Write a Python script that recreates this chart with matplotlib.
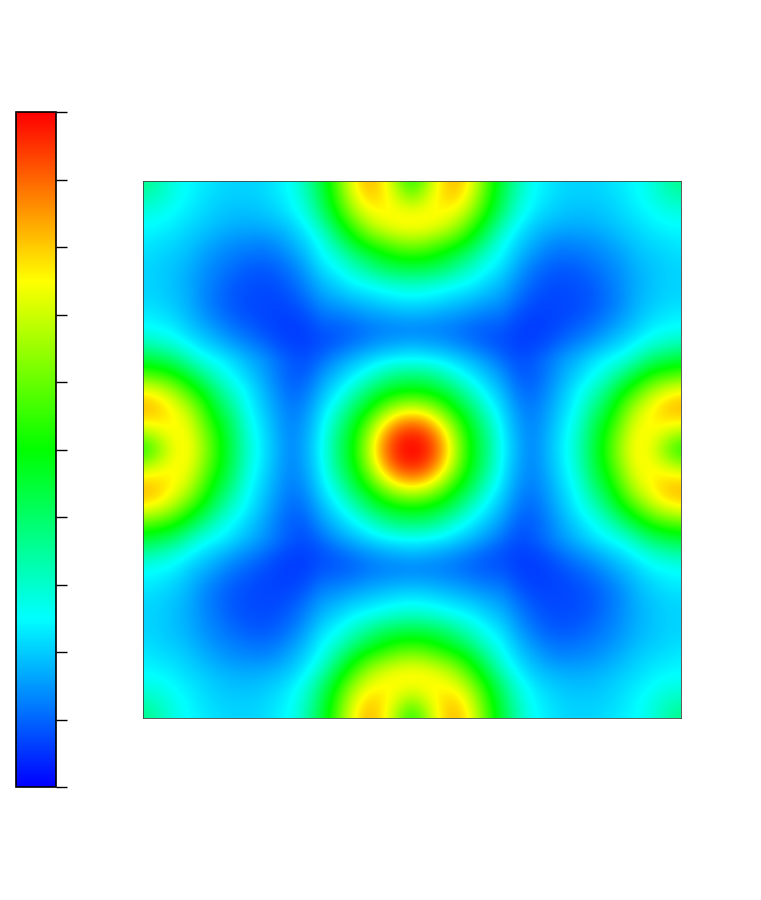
import numpy as np
import matplotlib
matplotlib.use("Agg")
import matplotlib.pyplot as plt
from matplotlib.colors import LinearSegmentedColormap

# Top left quarter of the field (the rest is mirrored)
row00 = [.37, .33, .28, .25, .235, .22, .21, .21, .215, .235, .26, .34, .45, .58, .74, .82, .78, .65, .52]
row01 = [.33, .31, .275, .245, .225, .21, .205, .205, .21, .23, .25, .32, .43, .56, .71, .80, .78, .70, .62]
row02 = [.28, .275, .25, .235, .215, .20, .19, .19, .195, .21, .24, .29, .40, .52, .65, .74, .76, .75, .73]
row03 = [.25, .245, .235, .215, .20, .185, .175, .17, .175, .185, .205, .25, .33, .45, .56, .66, .72, .75, .76]
row04 = [.235, .225, .215, .20, .18, .16, .145, .14, .135, .15, .18, .215, .27, .37, .47, .55, .60, .64, .66]
row05 = [.22, .21, .20, .185, .16, .14, .125, .115, .11, .12, .15, .19, .245, .29, .37, .43, .48, .52, .53]
row06 = [.21, .205, .19, .175, .145, .125, .105, .09, .085, .095, .12, .16, .215, .245, .29, .34, .39, .41, .42]
row07 = [.21, .205, .19, .17, .14, .115, .09, .08, .075, .08, .10, .135, .18, .205, .235, .25, .27, .29, .30]
row08 = [.215, .21, .195, .175, .135, .11, .085, .075, .07, .07, .08, .11, .15, .165, .185, .20, .215, .225, .23]
row09 = [.235, .23, .21, .185, .15, .12, .095, .08, .07, .065, .065, .08, .115, .12, .135, .15, .16, .17, .175]
row10 = [.26, .25, .24, .205, .18, .15, .12, .10, .08, .065, .06, .065, .085, .09, .10, .115, .125, .13, .13]
row11 = [.34, .32, .29, .25, .215, .19, .16, .135, .11, .08, .065, .065, .08, .095, .12, .14, .16, .17, .18]
row12 = [.45, .43, .40, .33, .27, .245, .215, .18, .15, .115, .085, .08, .11, .15, .18, .21, .23, .245, .25]
row13 = [.58, .56, .52, .45, .37, .29, .245, .205, .165, .12, .09, .095, .15, .19, .23, .27, .33, .37, .38]
row14 = [.74, .71, .65, .56, .47, .37, .29, .235, .185, .135, .10, .12, .18, .23, .29, .38, .44, .48, .49]
row15 = [.82, .80, .74, .66, .55, .43, .34, .25, .20, .15, .115, .14, .21, .27, .38, .46, .56, .63, .66]
row16 = [.78, .78, .76, .72, .60, .48, .39, .27, .215, .16, .125, .16, .23, .33, .44, .56, .70, .82, .86]
row17 = [.65, .70, .75, .75, .64, .52, .41, .29, .225, .17, .13, .17, .245, .37, .48, .63, .82, .94, .97]
row18 = [.52, .62, .73, .76, .66, .53, .42, .30, .23, .175, .13, .18, .25, .38, .49, .66, .86, .97, 1.0]

colorbar_ticks = [0, .1, .2, .3, .4, .5, .6, .7, .8, .9, 1]
colors = ["#0000ff", "#00ffff", "#00ff00", "#ffff00", "#ff0000"]

quarter = np.array([row00, row01, row02, row03, row04, row05, row06, row07, row08, row09,
                    row10, row11, row12, row13, row14, row15, row16, row17, row18])
top = np.hstack([quarter, quarter[:, -2::-1]])
field = np.vstack([top, top[-2::-1]])

cmap = LinearSegmentedColormap.from_list("rainbow5", colors, N=512)
W, H = 761, 900

fig = plt.figure(figsize=(W / 100, H / 100), dpi=100)

# Main image
ax = fig.add_axes([143 / W, (H - 718) / H, 538 / W, 537 / H])
im = ax.imshow(field, cmap=cmap, vmin=0, vmax=1, interpolation="bicubic",
               interpolation_stage="data", origin="upper", aspect="auto")
ax.set_xlim(0, field.shape[1] - 1)
ax.set_ylim(field.shape[0] - 1, 0)
ax.set_xticks([])
ax.set_yticks([])
for s in ax.spines.values():
    s.set_linewidth(0.6)
    s.set_color("#404040")

# Colorbar on the left, ticks without labels
cax = fig.add_axes([16 / W, (H - 787) / H, 40 / W, 675 / H])
cb = fig.colorbar(im, cax=cax, ticks=colorbar_ticks)
cb.ax.tick_params(length=8, width=1, labelright=False, color="black")
cb.outline.set_linewidth(1.2)
cb.outline.set_edgecolor("black")

fig.savefig("out.png", dpi=100)
